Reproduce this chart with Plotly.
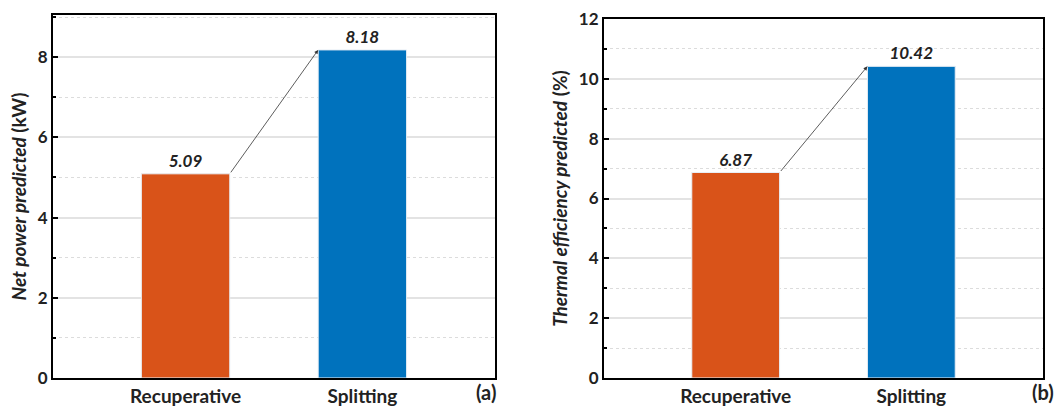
import plotly.graph_objects as go

categories = ["Recuperative", "Splitting"]
net_power = [5.09, 8.18]
thermal_eff = [6.87, 10.42]
bar_colors = ["#D95319", "#0072BD"]
yticks_a = [0, 2, 4, 6, 8]
yticks_b = [0, 2, 4, 6, 8, 10, 12]

FONT = "Lato"
fig = go.Figure()

for vals, xa, ya in [(net_power, "x", "y"), (thermal_eff, "x2", "y2")]:
    fig.add_trace(go.Bar(
        x=categories, y=vals, xaxis=xa, yaxis=ya,
        marker=dict(color=bar_colors, line=dict(color="#e8eef5", width=1)),
        width=0.5,
        text=[f"<b><i>{v:.2f}</i></b>" for v in vals],
        textposition="outside", cliponaxis=False,
        textfont=dict(family=FONT, size=17, color="#222"),
        showlegend=False,
    ))

axis_common = dict(showline=True, linecolor="black", linewidth=2, mirror=True)
yaxis_common = dict(
    **axis_common,
    ticks="inside", ticklen=5, tickwidth=2, tickcolor="black",
    showgrid=True, gridcolor="#e3e3e3", gridwidth=1.5, zeroline=False,
    tickfont=dict(family=FONT, size=17, color="#222", weight="bold"),
    minor=dict(dtick=1, ticks="inside", ticklen=3, tickwidth=1.5, tickcolor="black",
               showgrid=True, gridcolor="#dcdcdc", griddash="dot", gridwidth=1),
    title_font=dict(family=FONT, size=19, color="#222"),
    automargin=False,
)
xaxis_common = dict(
    **axis_common, ticks="", showgrid=False, range=[-0.75, 1.75],
    tickfont=dict(family=FONT, size=19, color="#222", weight="bold"),
    automargin=False,
)

fig.update_layout(
    width=1057, height=406, margin=dict(l=0, r=0, t=0, b=0),
    paper_bgcolor="white", plot_bgcolor="white",
    xaxis=dict(**xaxis_common, domain=[0.0501, 0.4683], anchor="y"),
    yaxis=dict(**yaxis_common, domain=[0.069, 0.963], anchor="x", range=[0, 9.05],
               tickvals=yticks_a, title=dict(text="<b><i>Net power predicted</i> (kW)</b>", standoff=6)),
    xaxis2=dict(**xaxis_common, domain=[0.5714, 0.9868], anchor="y2"),
    yaxis2=dict(**yaxis_common, domain=[0.069, 0.953], anchor="x2", range=[0, 12],
                tickvals=yticks_b, title=dict(text="<b><i>Thermal efficiency predicted</i> (%)</b>", standoff=6)),
)

# arrows between bars
for vals, xr, yr in [(net_power, "x", "y"), (thermal_eff, "x2", "y2")]:
    fig.add_annotation(x=0.75, y=vals[1], ax=0.25, ay=vals[0], xref=xr, yref=yr,
                       axref=xr, ayref=yr, showarrow=True, arrowhead=2, arrowsize=1,
                       arrowwidth=0.8, arrowcolor="#333", text="")

for label, xpos in [("(a)", 0.4705), ("(b)", 0.998)]:
    fig.add_annotation(text=f"<b>{label}</b>", x=xpos, y=0.034, xref="paper", yref="paper",
                       xanchor="right", yanchor="middle", showarrow=False, borderpad=0,
                       font=dict(family=FONT, size=20, color="#222"))

fig.write_html("out.html")
